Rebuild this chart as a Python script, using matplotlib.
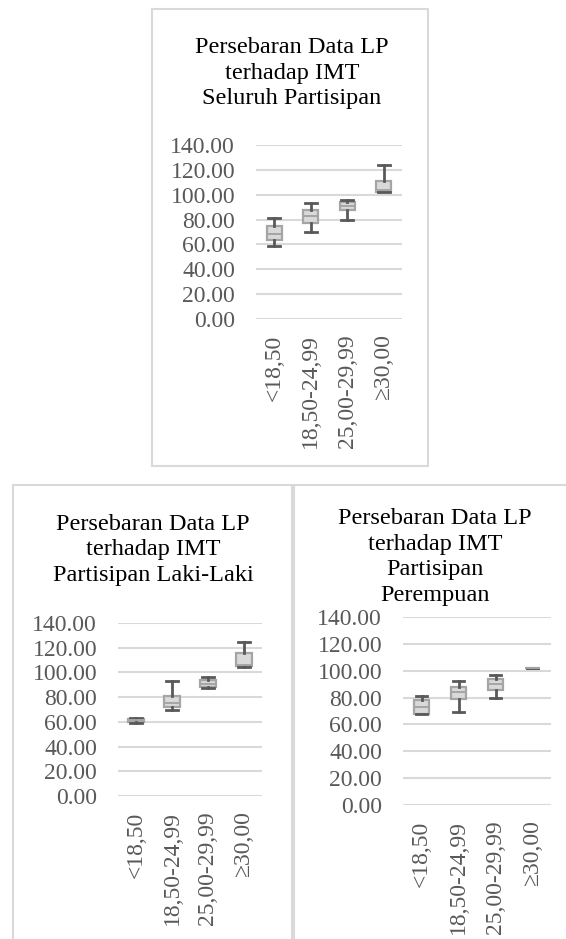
import matplotlib.pyplot as plt
from matplotlib.patches import Rectangle

plt.rcParams['font.family'] = ['Liberation Serif', 'DejaVu Serif']

# categories of IMT
categories = ['<18,50', '18,50-24,99', '25,00-29,99', '≥30,00']

# five-number summaries (min, q1, median, q3, max) of LP per chart
all_min = [59, 70, 80, 102]
all_q1 = [63.5, 77, 87.5, 102.5]
all_med = [68, 82.5, 91, 104]
all_q3 = [74.5, 88, 94, 111]
all_max = [81, 93, 96, 124]

male_min = [59, 69.5, 87, 104]
male_q1 = [60, 72, 88, 105]
male_med = [61.5, 75, 91, 106]
male_q3 = [62.5, 81, 93.5, 116]
male_max = [63.5, 93, 96, 124.5]

female_min = [67.5, 69.5, 80, 102]
female_q1 = [68, 79, 85.5, 102]
female_med = [73, 84, 90, 102]
female_q3 = [78.5, 88, 94, 102]
female_max = [81, 92.5, 96.5, 102]

titles = ['Persebaran Data LP\nterhadap IMT\nSeluruh Partisipan',
          'Persebaran Data LP\nterhadap IMT\nPartisipan Laki-Laki',
          'Persebaran Data LP\nterhadap IMT\nPartisipan\nPerempuan']

W, H = 566, 939
fig = plt.figure(figsize=(W / 100, H / 100), dpi=100)


def px_rect(left, top, right, bottom):
    # pixel box -> figure fraction [x, y, w, h]
    return [left / W, 1 - bottom / H, (right - left) / W, (bottom - top) / H]


def draw_box(ax, mins, q1s, meds, q3s, maxs):
    stats = []
    for lo, a, m, b, hi in zip(mins, q1s, meds, q3s, maxs):
        stats.append({'whislo': lo, 'q1': a, 'med': m, 'q3': b, 'whishi': hi, 'fliers': []})
    ax.bxp(stats, positions=range(len(stats)), widths=0.42, patch_artist=True,
           showfliers=False, capwidths=0.32,
           boxprops=dict(facecolor='#d9d9d9', edgecolor='#a5a5a5', linewidth=1.6),
           medianprops=dict(color='#a5a5a5', linewidth=1.4),
           whiskerprops=dict(color='#595959', linewidth=2),
           capprops=dict(color='#595959', linewidth=2))
    ax.set_xlim(-0.5, len(stats) - 0.5)
    ax.set_ylim(0, 140)
    ax.set_yticks(range(0, 141, 20))
    ax.set_yticklabels([f'{v:.2f}' for v in range(0, 141, 20)])
    ax.set_xticks(range(len(categories)))
    ax.set_xticklabels(categories, rotation=90)
    ax.tick_params(length=0, labelsize=17, labelcolor='#595959')
    ax.tick_params(axis='y', pad=15)
    ax.tick_params(axis='x', pad=11)
    ax.grid(axis='y', color='#d9d9d9', linewidth=1.5)
    ax.set_axisbelow(True)
    for s in ax.spines.values():
        s.set_visible(False)


ax1 = fig.add_axes(px_rect(256, 145, 402, 319))
draw_box(ax1, all_min, all_q1, all_med, all_q3, all_max)
ax2 = fig.add_axes(px_rect(118, 623, 262, 796))
draw_box(ax2, male_min, male_q1, male_med, male_q3, male_max)
ax3 = fig.add_axes(px_rect(403, 617, 551, 805))
draw_box(ax3, female_min, female_q1, female_med, female_q3, female_max)

# chart titles
fig.text(292 / W, 1 - 73 / H, titles[0], ha='center', va='center', fontsize=17.5, linespacing=1.3)
fig.text(153 / W, 1 - 550 / H, titles[1], ha='center', va='center', fontsize=17.5, linespacing=1.3)
fig.text(435 / W, 1 - 557 / H, titles[2], ha='center', va='center', fontsize=17.5, linespacing=1.3)

# chart area borders
for left, top, right, bottom in [(152, 9, 428, 466), (13, 485, 292, 950), (294, 485, 580, 950)]:
    x, y, w, h = px_rect(left, top, right, bottom)
    fig.add_artist(Rectangle((x, y), w, h, transform=fig.transFigure, fill=False,
                             edgecolor='#d9d9d9', linewidth=1.5, clip_on=False))

fig.savefig('out.png', dpi=100)
